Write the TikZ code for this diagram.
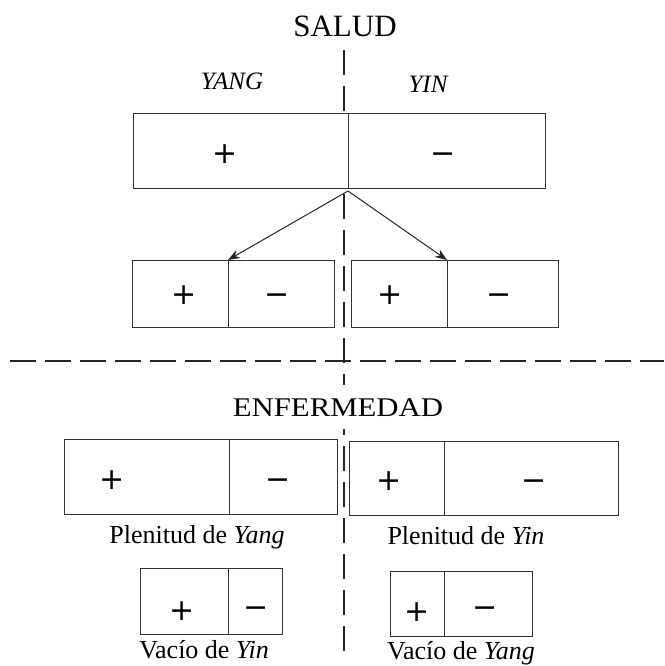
\documentclass[tikz,border=0pt]{standalone}
\usepackage{fontspec}
\setmainfont{Liberation Serif}
\newfontfamily\symfont{DejaVu Sans}
\usetikzlibrary{arrows.meta}
\tikzset{
  cell/.style={draw=black!80, line width=1pt, fill=white, inner sep=0pt, outer sep=0pt},
  sym/.style={inner sep=0pt, anchor=base, font=\symfont\fontsize{30}{32}\selectfont},
  title/.style={inner sep=0pt, anchor=base, font=\fontsize{31}{34}\selectfont},
  head/.style={inner sep=0pt, anchor=base, font=\itshape\fontsize{25}{28}\selectfont},
  lab/.style={inner sep=0pt, anchor=base, font=\fontsize{26}{29}\selectfont},
  vdash/.style={draw=black!85, line width=2.3pt, dash pattern=on 25pt off 11pt},
  hdash/.style={draw=black!85, line width=2.4pt, dash pattern=on 26pt off 9pt},
  arr/.style={draw=black!85, line width=1pt, -{Stealth[length=12pt,width=9pt]}}
}
\begin{document}
\begin{tikzpicture}[x=1pt,y=-1pt]
\useasboundingbox (0,0) rectangle (664,666);
% dashed axes
\coordinate (vtop) at (344,50);
\coordinate (vbot) at (344,653);
\coordinate (hl) at (10,361);
\coordinate (hr) at (664,361);
\draw[vdash] (vtop) -- (vbot);
\draw[hdash] (hl) -- (hr);
% titles
\node[title] (salud) at (345,37) {SALUD};
\node[head] (yang) at (232,90) {YANG};
\node[head] (yin) at (428,93) {YIN};
% top box
\node[cell, minimum width=215pt, minimum height=74pt] (t1) at (240.5,151) {};
\node[cell, minimum width=197pt, minimum height=74pt] (t2) at (446.5,151) {};
\node[sym] (tp) at (225,163) {+};
\node[sym] (tm) at (443,163) {−};
% middle boxes
\node[cell, minimum width=96pt, minimum height=67pt] (m1) at (180,293.5) {};
\node[cell, minimum width=106pt, minimum height=67pt] (m2) at (281,293.5) {};
\node[cell, minimum width=96pt, minimum height=67pt] (m3) at (399,293.5) {};
\node[cell, minimum width=111pt, minimum height=67pt] (m4) at (502.5,293.5) {};
\node[sym] (mp1) at (184,304) {+};
\node[sym] (mm1) at (277,304) {−};
\node[sym] (mp2) at (390,304) {+};
\node[sym] (mm2) at (499,304) {−};
% arrows
\coordinate (apex) at (348,191);
\draw[arr] (apex) -- (m1.north east);
\draw[arr] (apex) -- (m3.north east);
% ENFERMEDAD
\node[inner xsep=3pt, inner ysep=13pt, anchor=base, font=\fontsize{27}{30}\selectfont, fill=white] (enf) at (338,416) {\scalebox{1.14}[1]{ENFERMEDAD}};
% lower boxes
\node[cell, minimum width=165pt, minimum height=75pt] (l1) at (146.5,476.5) {};
\node[cell, minimum width=108pt, minimum height=75pt] (l2) at (283,476.5) {};
\node[cell, minimum width=95pt, minimum height=74pt] (l3) at (396.5,478) {};
\node[cell, minimum width=174pt, minimum height=74pt] (l4) at (531,478) {};
\node[sym] (lp1) at (112,489) {+};
\node[sym] (lm1) at (278,489) {−};
\node[sym] (lp2) at (389,490) {+};
\node[sym] (lm2) at (534,490) {−};
\node[lab] (pyang) at (197,543) {Plenitud de \textit{Yang}};
\node[lab] (pyin) at (466,544) {Plenitud de \textit{Yin}};
% bottom boxes
\node[cell, minimum width=88pt, minimum height=66pt] (b1) at (184,601) {};
\node[cell, minimum width=54pt, minimum height=66pt] (b2) at (255,601) {};
\node[cell, minimum width=54pt, minimum height=65pt] (b3) at (417,603.5) {};
\node[cell, minimum width=88pt, minimum height=65pt] (b4) at (488,603.5) {};
\node[sym] (bp1) at (182,620) {+};
\node[sym] (bm1) at (256,617) {−};
\node[sym] (bp2) at (417,621) {+};
\node[sym] (bm2) at (485,617) {−};
\node[lab] (vyin) at (204,658) {Vacío de \textit{Yin}};
\node[lab] (vyang) at (461,659) {Vacío de \textit{Yang}};
\end{tikzpicture}
\end{document}
